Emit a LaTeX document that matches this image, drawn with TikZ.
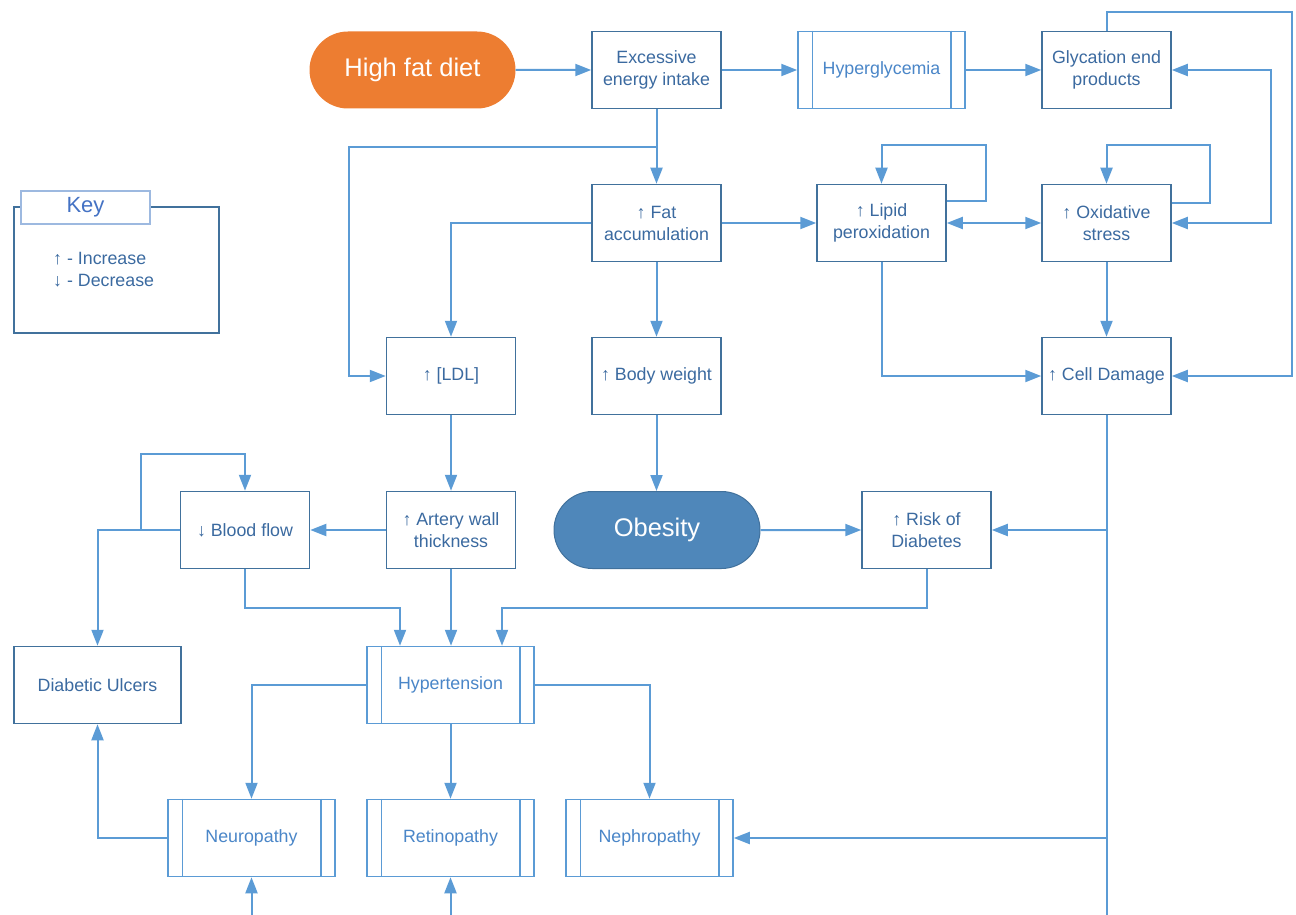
\documentclass[tikz,border=0pt]{standalone}
\usepackage{fontspec}
\setmainfont{Liberation Sans}
\usetikzlibrary{arrows.meta,shapes.misc}

\definecolor{lineblue}{HTML}{5B9BD5}
\definecolor{boxborder}{HTML}{41719C}
\definecolor{boxtext}{HTML}{3B6AA0}
\definecolor{proctext}{HTML}{4A86C8}
\definecolor{dietorange}{HTML}{ED7D31}
\definecolor{obesefill}{HTML}{4F87BA}
\definecolor{keyblue}{HTML}{4472C4}
\definecolor{keyedge}{HTML}{9DB9E0}

\newcommand\boxfont{\fontsize{17.8}{22}\selectfont}
\newcommand\bigfont{\fontsize{25.5}{28}\selectfont}

\tikzset{
  box/.style={draw=boxborder, line width=1.5pt, fill=white, inner sep=0pt,
    minimum width=129pt, minimum height=77pt, align=center,
    text=boxtext, font=\boxfont},
  widebox/.style={box, minimum width=167pt},
  proc/.style={widebox, draw=lineblue, text=proctext},
  terminal/.style={rounded rectangle, inner sep=0pt, minimum width=206pt,
    minimum height=77pt, text=white, font=\bigfont},
  conn/.style={draw=lineblue, line width=2pt,
    -{Triangle[length=16pt,width=12pt]}},
  conntwo/.style={conn, {Triangle[length=16pt,width=12pt]}-{Triangle[length=16pt,width=12pt]}},
  plainline/.style={draw=lineblue, line width=2pt},
  procline/.style={draw=lineblue, line width=1.5pt},
}

\begin{document}
\begin{tikzpicture}[x=1pt, y=-1pt]
\useasboundingbox (0,0) rectangle (1296,915);

% legend
\node[draw=boxborder, line width=1.5pt, minimum width=205pt, minimum height=126pt,
      inner sep=0pt] (keyframe) at (116.5,270) {};
\node[draw=keyedge, line width=1.2pt, fill=white, minimum width=129pt,
      minimum height=33pt, inner sep=0pt, text=keyblue,
      font=\fontsize{22}{24}\selectfont] (keytitle) at (85.5,207.5) {Key};
\node[anchor=west, align=left, text=boxtext, font=\boxfont, inner sep=0pt]
      (keytext) at (53,270) {↑ - Increase\\↓ - Decrease};

% nodes
\node[terminal, fill=dietorange] (hfd) at (412.5,70) {High fat diet};
\node[box] (exc) at (656.5,70) {Excessive\\energy intake};
\node[proc] (hyp) at (881.5,70) {Hyperglycemia};
\node[box] (gly) at (1106.5,70) {Glycation end\\products};
\node[box] (fat) at (656.5,223) {↑ Fat\\accumulation};
\node[box] (lip) at (881.5,223) {↑ Lipid\\peroxidation};
\node[box] (oxi) at (1106.5,223) {↑ Oxidative\\stress};
\node[box] (ldl) at (451,376) {↑ [LDL]};
\node[box] (bw) at (656.5,376) {↑ Body weight};
\node[box] (cell) at (1106.5,376) {↑ Cell Damage};
\node[box] (blood) at (245,530) {↓ Blood flow};
\node[box] (artery) at (451,530) {↑ Artery wall\\thickness};
\node[terminal, fill=obesefill, draw=boxborder, line width=1pt] (obe) at (657,530) {Obesity};
\node[box] (risk) at (926.5,530) {↑ Risk of\\Diabetes};
\node[widebox] (ulc) at (97.5,685) {Diabetic Ulcers};
\node[proc] (htn) at (450.5,685) {Hypertension};
\node[proc] (neu) at (251.5,838) {Neuropathy};
\node[proc] (ret) at (450.5,838) {Retinopathy};
\node[proc] (nep) at (649.5,838) {Nephropathy};

% inner bars of the process boxes
\foreach \n in {hyp,htn,neu,ret,nep}{
  \draw[procline] ([xshift=15pt]\n.north west) -- ([xshift=15pt]\n.south west);
  \draw[procline] ([xshift=-15pt]\n.north east) -- ([xshift=-15pt]\n.south east);
}

% routing points
\coordinate (toprail) at (1292,12);
\coordinate (siderail) at (1271,0);
\coordinate (ldlrail) at (349,147);
\coordinate (cellend) at (1106.5,915);
\coordinate (neuend) at (251.5,915);
\coordinate (retend) at (450.5,915);

% top row
\draw[conn] (hfd) -- (exc);
\draw[conn] (exc) -- (hyp);
\draw[conn] (hyp) -- (gly);
\draw[conn] (gly.north) |- (toprail) |- (cell.east);
\draw[conntwo] (oxi.east) -- (oxi.east -| siderail) |- (gly.east);

% second row
\draw[conn] (exc) -- (fat);
\draw[conn] (exc.south) |- (ldlrail) |- (ldl.west);
\draw[conn] (fat) -- (lip);
\draw[conntwo] (lip) -- (oxi);
\draw[conn] ([yshift=-17pt]lip.north east) -- ++(39,0) -- ++(0,-56) -| (lip.north);
\draw[conn] ([yshift=-19pt]oxi.north east) -- ++(38,0) -- ++(0,-58) -| (oxi.north);

% third row
\draw[conn] (fat.west) -| (ldl.north);
\draw[conn] (fat) -- (bw);
\draw[conn] (lip.south) |- (cell.west);
\draw[conn] (oxi) -- (cell);

% fourth row
\draw[conn] (ldl) -- (artery);
\draw[conn] (bw.south) -- (bw.south |- obe.north);
\draw[conn] (artery) -- (blood);
\draw[conn] (obe) -- (risk);
\draw[plainline] (cell.south) -- (cellend);
\draw[conn] (cell.south |- risk.east) -- (risk.east);
\draw[conn] (blood.west) -| (ulc.north);
\draw[conn] ([xshift=-39pt]blood.west) -- ++(0,-76) -| (blood.north);

% hypertension inputs
\draw[conn] (blood.south) -- ++(0,39) -| ([xshift=-50.5pt]htn.north);
\draw[conn] (artery.south) -- (artery.south |- htn.north);
\draw[conn] (risk.south) -- ++(0,39) -| ([xshift=51.5pt]htn.north);

% complications
\draw[conn] (htn.west) -| (neu.north);
\draw[conn] (htn) -- (ret);
\draw[conn] (htn.east) -| (nep.north);
\draw[conn] (cell.south |- nep.east) -- (nep.east);
\draw[conn] (neu.west) -| (ulc.south);
\draw[conn] (neuend) -- (neu.south);
\draw[conn] (retend) -- (ret.south);
\end{tikzpicture}
\end{document}
